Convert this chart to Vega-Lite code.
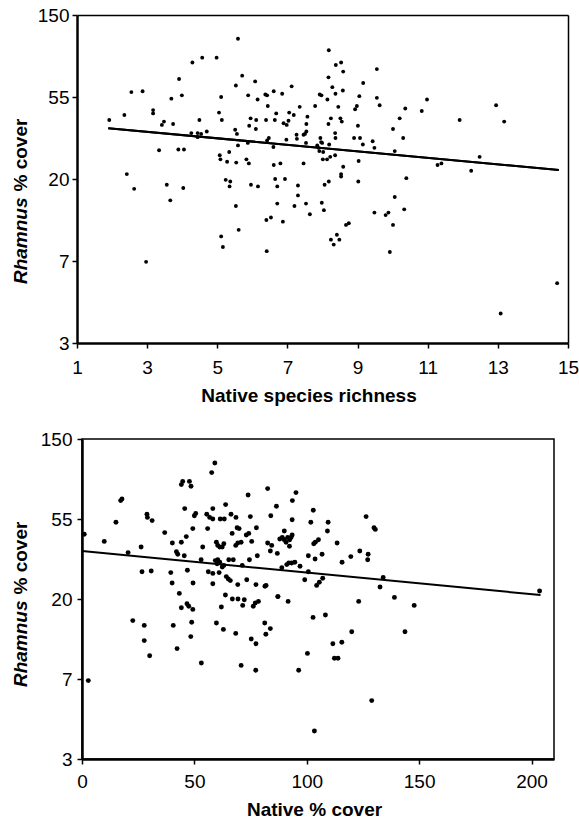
{
  "$schema": "https://vega.github.io/schema/vega-lite/v6.json",
  "background": "white",
  "padding": {"left": 10, "top": 6, "right": 0, "bottom": 0},
  "spacing": 24,
  "columns": 1,
  "align": "none",
  "config": {
    "font": "Liberation Sans",
    "view": {"stroke": "black", "strokeWidth": 1.5},
    "axis": {
      "grid": false,
      "domainColor": "black",
      "domainWidth": 2.5,
      "tickColor": "black",
      "tickWidth": 1.5,
      "tickSize": 5,
      "labelColor": "black",
      "labelFont": "Liberation Sans",
      "labelFontSize": 19,
      "labelFlush": false,
      "labelOverlap": false,
      "titleColor": "black",
      "titleFont": "Liberation Sans",
      "titleFontSize": 19,
      "titleFontWeight": "bold"
    }
  },
  "datasets": {
    "richness": [
      {"native_richness": 1.92, "ln_rhamnus_cover": 3.72},
      {"native_richness": 2.35, "ln_rhamnus_cover": 3.78},
      {"native_richness": 2.55, "ln_rhamnus_cover": 4.06},
      {"native_richness": 2.87, "ln_rhamnus_cover": 4.07},
      {"native_richness": 3.17, "ln_rhamnus_cover": 3.84},
      {"native_richness": 3.17, "ln_rhamnus_cover": 3.80},
      {"native_richness": 3.48, "ln_rhamnus_cover": 3.70},
      {"native_richness": 3.42, "ln_rhamnus_cover": 3.66},
      {"native_richness": 3.74, "ln_rhamnus_cover": 3.67},
      {"native_richness": 3.69, "ln_rhamnus_cover": 3.98},
      {"native_richness": 3.91, "ln_rhamnus_cover": 4.22},
      {"native_richness": 3.99, "ln_rhamnus_cover": 4.02},
      {"native_richness": 4.29, "ln_rhamnus_cover": 4.42},
      {"native_richness": 4.57, "ln_rhamnus_cover": 4.48},
      {"native_richness": 4.98, "ln_rhamnus_cover": 4.48},
      {"native_richness": 3.34, "ln_rhamnus_cover": 3.35},
      {"native_richness": 3.89, "ln_rhamnus_cover": 3.36},
      {"native_richness": 4.05, "ln_rhamnus_cover": 3.36},
      {"native_richness": 4.26, "ln_rhamnus_cover": 3.56},
      {"native_richness": 4.44, "ln_rhamnus_cover": 3.56},
      {"native_richness": 4.44, "ln_rhamnus_cover": 3.51},
      {"native_richness": 4.54, "ln_rhamnus_cover": 3.55},
      {"native_richness": 4.70, "ln_rhamnus_cover": 3.58},
      {"native_richness": 4.49, "ln_rhamnus_cover": 3.72},
      {"native_richness": 5.05, "ln_rhamnus_cover": 3.81},
      {"native_richness": 5.13, "ln_rhamnus_cover": 3.72},
      {"native_richness": 5.11, "ln_rhamnus_cover": 4.00},
      {"native_richness": 5.59, "ln_rhamnus_cover": 4.71},
      {"native_richness": 5.71, "ln_rhamnus_cover": 4.26},
      {"native_richness": 5.53, "ln_rhamnus_cover": 4.14},
      {"native_richness": 6.08, "ln_rhamnus_cover": 4.19},
      {"native_richness": 5.88, "ln_rhamnus_cover": 4.02},
      {"native_richness": 6.15, "ln_rhamnus_cover": 3.97},
      {"native_richness": 5.95, "ln_rhamnus_cover": 3.74},
      {"native_richness": 6.11, "ln_rhamnus_cover": 3.72},
      {"native_richness": 5.91, "ln_rhamnus_cover": 3.65},
      {"native_richness": 6.10, "ln_rhamnus_cover": 3.61},
      {"native_richness": 5.51, "ln_rhamnus_cover": 3.60},
      {"native_richness": 5.56, "ln_rhamnus_cover": 3.55},
      {"native_richness": 5.59, "ln_rhamnus_cover": 3.41},
      {"native_richness": 5.87, "ln_rhamnus_cover": 3.44},
      {"native_richness": 5.07, "ln_rhamnus_cover": 3.29},
      {"native_richness": 5.09, "ln_rhamnus_cover": 3.24},
      {"native_richness": 5.34, "ln_rhamnus_cover": 3.33},
      {"native_richness": 5.28, "ln_rhamnus_cover": 3.21},
      {"native_richness": 5.54, "ln_rhamnus_cover": 3.20},
      {"native_richness": 5.83, "ln_rhamnus_cover": 3.24},
      {"native_richness": 5.90, "ln_rhamnus_cover": 3.19},
      {"native_richness": 5.24, "ln_rhamnus_cover": 2.99},
      {"native_richness": 5.37, "ln_rhamnus_cover": 2.97},
      {"native_richness": 5.35, "ln_rhamnus_cover": 2.91},
      {"native_richness": 5.96, "ln_rhamnus_cover": 2.93},
      {"native_richness": 6.16, "ln_rhamnus_cover": 2.91},
      {"native_richness": 6.39, "ln_rhamnus_cover": 3.72},
      {"native_richness": 6.44, "ln_rhamnus_cover": 3.89},
      {"native_richness": 6.37, "ln_rhamnus_cover": 4.03},
      {"native_richness": 6.42, "ln_rhamnus_cover": 4.02},
      {"native_richness": 6.61, "ln_rhamnus_cover": 4.07},
      {"native_richness": 6.85, "ln_rhamnus_cover": 4.04},
      {"native_richness": 6.68, "ln_rhamnus_cover": 3.80},
      {"native_richness": 6.64, "ln_rhamnus_cover": 3.72},
      {"native_richness": 6.89, "ln_rhamnus_cover": 3.68},
      {"native_richness": 6.98, "ln_rhamnus_cover": 3.66},
      {"native_richness": 7.03, "ln_rhamnus_cover": 3.71},
      {"native_richness": 7.05, "ln_rhamnus_cover": 3.81},
      {"native_richness": 7.12, "ln_rhamnus_cover": 4.13},
      {"native_richness": 6.47, "ln_rhamnus_cover": 3.50},
      {"native_richness": 6.42, "ln_rhamnus_cover": 3.47},
      {"native_richness": 6.60, "ln_rhamnus_cover": 3.39},
      {"native_richness": 6.97, "ln_rhamnus_cover": 3.48},
      {"native_richness": 6.61, "ln_rhamnus_cover": 3.17},
      {"native_richness": 6.80, "ln_rhamnus_cover": 3.19},
      {"native_richness": 6.65, "ln_rhamnus_cover": 3.00},
      {"native_richness": 6.93, "ln_rhamnus_cover": 3.00},
      {"native_richness": 6.71, "ln_rhamnus_cover": 2.91},
      {"native_richness": 2.42, "ln_rhamnus_cover": 3.06},
      {"native_richness": 2.63, "ln_rhamnus_cover": 2.88},
      {"native_richness": 3.56, "ln_rhamnus_cover": 2.93},
      {"native_richness": 4.03, "ln_rhamnus_cover": 2.89},
      {"native_richness": 3.66, "ln_rhamnus_cover": 2.74},
      {"native_richness": 2.97, "ln_rhamnus_cover": 1.99},
      {"native_richness": 5.11, "ln_rhamnus_cover": 2.30},
      {"native_richness": 5.16, "ln_rhamnus_cover": 2.17},
      {"native_richness": 5.61, "ln_rhamnus_cover": 2.38},
      {"native_richness": 5.53, "ln_rhamnus_cover": 2.67},
      {"native_richness": 6.71, "ln_rhamnus_cover": 2.70},
      {"native_richness": 6.40, "ln_rhamnus_cover": 2.50},
      {"native_richness": 6.53, "ln_rhamnus_cover": 2.53},
      {"native_richness": 6.87, "ln_rhamnus_cover": 2.48},
      {"native_richness": 6.41, "ln_rhamnus_cover": 2.12},
      {"native_richness": 8.18, "ln_rhamnus_cover": 4.57},
      {"native_richness": 8.38, "ln_rhamnus_cover": 4.39},
      {"native_richness": 8.53, "ln_rhamnus_cover": 4.42},
      {"native_richness": 8.59, "ln_rhamnus_cover": 4.31},
      {"native_richness": 8.17, "ln_rhamnus_cover": 4.24},
      {"native_richness": 8.28, "ln_rhamnus_cover": 4.12},
      {"native_richness": 8.37, "ln_rhamnus_cover": 4.04},
      {"native_richness": 8.58, "ln_rhamnus_cover": 4.08},
      {"native_richness": 8.14, "ln_rhamnus_cover": 3.97},
      {"native_richness": 8.45, "ln_rhamnus_cover": 3.88},
      {"native_richness": 7.92, "ln_rhamnus_cover": 4.03},
      {"native_richness": 7.97, "ln_rhamnus_cover": 4.02},
      {"native_richness": 7.79, "ln_rhamnus_cover": 3.89},
      {"native_richness": 7.35, "ln_rhamnus_cover": 3.88},
      {"native_richness": 7.18, "ln_rhamnus_cover": 3.78},
      {"native_richness": 7.57, "ln_rhamnus_cover": 3.76},
      {"native_richness": 7.54, "ln_rhamnus_cover": 3.67},
      {"native_richness": 8.24, "ln_rhamnus_cover": 3.74},
      {"native_richness": 8.17, "ln_rhamnus_cover": 3.67},
      {"native_richness": 8.51, "ln_rhamnus_cover": 3.74},
      {"native_richness": 8.55, "ln_rhamnus_cover": 3.70},
      {"native_richness": 7.54, "ln_rhamnus_cover": 3.58},
      {"native_richness": 7.50, "ln_rhamnus_cover": 3.55},
      {"native_richness": 7.46, "ln_rhamnus_cover": 3.54},
      {"native_richness": 7.26, "ln_rhamnus_cover": 3.54},
      {"native_richness": 7.27, "ln_rhamnus_cover": 3.49},
      {"native_richness": 7.53, "ln_rhamnus_cover": 3.44},
      {"native_richness": 7.46, "ln_rhamnus_cover": 3.19},
      {"native_richness": 7.30, "ln_rhamnus_cover": 2.92},
      {"native_richness": 7.30, "ln_rhamnus_cover": 2.80},
      {"native_richness": 7.94, "ln_rhamnus_cover": 3.50},
      {"native_richness": 7.96, "ln_rhamnus_cover": 3.45},
      {"native_richness": 7.99, "ln_rhamnus_cover": 3.44},
      {"native_richness": 7.85, "ln_rhamnus_cover": 3.41},
      {"native_richness": 7.89, "ln_rhamnus_cover": 3.38},
      {"native_richness": 7.91, "ln_rhamnus_cover": 3.34},
      {"native_richness": 8.02, "ln_rhamnus_cover": 3.33},
      {"native_richness": 8.19, "ln_rhamnus_cover": 3.42},
      {"native_richness": 8.01, "ln_rhamnus_cover": 3.24},
      {"native_richness": 8.13, "ln_rhamnus_cover": 3.24},
      {"native_richness": 8.22, "ln_rhamnus_cover": 3.27},
      {"native_richness": 8.36, "ln_rhamnus_cover": 3.29},
      {"native_richness": 8.36, "ln_rhamnus_cover": 3.56},
      {"native_richness": 8.37, "ln_rhamnus_cover": 3.50},
      {"native_richness": 8.59, "ln_rhamnus_cover": 3.15},
      {"native_richness": 8.53, "ln_rhamnus_cover": 3.06},
      {"native_richness": 8.53, "ln_rhamnus_cover": 3.03},
      {"native_richness": 8.06, "ln_rhamnus_cover": 2.93},
      {"native_richness": 8.18, "ln_rhamnus_cover": 2.97},
      {"native_richness": 9.05, "ln_rhamnus_cover": 4.01},
      {"native_richness": 9.16, "ln_rhamnus_cover": 4.17},
      {"native_richness": 8.98, "ln_rhamnus_cover": 3.89},
      {"native_richness": 8.93, "ln_rhamnus_cover": 3.85},
      {"native_richness": 9.01, "ln_rhamnus_cover": 3.65},
      {"native_richness": 8.90, "ln_rhamnus_cover": 3.50},
      {"native_richness": 9.07, "ln_rhamnus_cover": 3.50},
      {"native_richness": 9.15, "ln_rhamnus_cover": 3.42},
      {"native_richness": 9.03, "ln_rhamnus_cover": 3.22},
      {"native_richness": 9.02, "ln_rhamnus_cover": 2.97},
      {"native_richness": 9.43, "ln_rhamnus_cover": 3.46},
      {"native_richness": 9.48, "ln_rhamnus_cover": 3.38},
      {"native_richness": 9.55, "ln_rhamnus_cover": 4.34},
      {"native_richness": 9.55, "ln_rhamnus_cover": 3.99},
      {"native_richness": 9.63, "ln_rhamnus_cover": 3.90},
      {"native_richness": 10.01, "ln_rhamnus_cover": 3.61},
      {"native_richness": 10.20, "ln_rhamnus_cover": 3.74},
      {"native_richness": 10.36, "ln_rhamnus_cover": 3.86},
      {"native_richness": 10.30, "ln_rhamnus_cover": 3.50},
      {"native_richness": 10.06, "ln_rhamnus_cover": 3.34},
      {"native_richness": 10.39, "ln_rhamnus_cover": 3.01},
      {"native_richness": 10.06, "ln_rhamnus_cover": 2.78},
      {"native_richness": 10.83, "ln_rhamnus_cover": 3.83},
      {"native_richness": 10.98, "ln_rhamnus_cover": 3.97},
      {"native_richness": 11.28, "ln_rhamnus_cover": 3.17},
      {"native_richness": 11.39, "ln_rhamnus_cover": 3.19},
      {"native_richness": 11.91, "ln_rhamnus_cover": 3.72},
      {"native_richness": 12.24, "ln_rhamnus_cover": 3.10},
      {"native_richness": 12.48, "ln_rhamnus_cover": 3.27},
      {"native_richness": 12.95, "ln_rhamnus_cover": 3.90},
      {"native_richness": 13.18, "ln_rhamnus_cover": 3.70},
      {"native_richness": 7.20, "ln_rhamnus_cover": 2.67},
      {"native_richness": 7.53, "ln_rhamnus_cover": 2.70},
      {"native_richness": 7.64, "ln_rhamnus_cover": 2.57},
      {"native_richness": 7.98, "ln_rhamnus_cover": 2.71},
      {"native_richness": 8.04, "ln_rhamnus_cover": 2.62},
      {"native_richness": 8.24, "ln_rhamnus_cover": 2.26},
      {"native_richness": 8.32, "ln_rhamnus_cover": 2.20},
      {"native_richness": 8.41, "ln_rhamnus_cover": 2.32},
      {"native_richness": 8.48, "ln_rhamnus_cover": 2.26},
      {"native_richness": 8.67, "ln_rhamnus_cover": 2.44},
      {"native_richness": 8.75, "ln_rhamnus_cover": 2.46},
      {"native_richness": 9.48, "ln_rhamnus_cover": 2.59},
      {"native_richness": 9.80, "ln_rhamnus_cover": 2.56},
      {"native_richness": 9.88, "ln_rhamnus_cover": 2.59},
      {"native_richness": 9.92, "ln_rhamnus_cover": 2.11},
      {"native_richness": 10.01, "ln_rhamnus_cover": 2.44},
      {"native_richness": 10.33, "ln_rhamnus_cover": 2.63},
      {"native_richness": 13.08, "ln_rhamnus_cover": 1.36},
      {"native_richness": 14.69, "ln_rhamnus_cover": 1.73}
    ],
    "richness_fit": [
      {"native_richness": 1.89, "ln_rhamnus_cover": 3.62},
      {"native_richness": 14.74, "ln_rhamnus_cover": 3.11}
    ],
    "cover": [
      {"native_cover": 1.0, "ln_rhamnus_cover": 3.81},
      {"native_cover": 9.9, "ln_rhamnus_cover": 3.72},
      {"native_cover": 15.1, "ln_rhamnus_cover": 3.96},
      {"native_cover": 17.2, "ln_rhamnus_cover": 4.23},
      {"native_cover": 17.8, "ln_rhamnus_cover": 4.25},
      {"native_cover": 20.5, "ln_rhamnus_cover": 3.58},
      {"native_cover": 26.3, "ln_rhamnus_cover": 3.65},
      {"native_cover": 26.7, "ln_rhamnus_cover": 3.34},
      {"native_cover": 30.8, "ln_rhamnus_cover": 3.35},
      {"native_cover": 28.9, "ln_rhamnus_cover": 4.06},
      {"native_cover": 29.1, "ln_rhamnus_cover": 4.02},
      {"native_cover": 31.2, "ln_rhamnus_cover": 3.98},
      {"native_cover": 36.8, "ln_rhamnus_cover": 3.83},
      {"native_cover": 39.5, "ln_rhamnus_cover": 3.33},
      {"native_cover": 40.1, "ln_rhamnus_cover": 3.20},
      {"native_cover": 40.2, "ln_rhamnus_cover": 3.70},
      {"native_cover": 42.0, "ln_rhamnus_cover": 3.59},
      {"native_cover": 42.6, "ln_rhamnus_cover": 3.56},
      {"native_cover": 43.3, "ln_rhamnus_cover": 3.07},
      {"native_cover": 44.2, "ln_rhamnus_cover": 4.43},
      {"native_cover": 44.8, "ln_rhamnus_cover": 4.47},
      {"native_cover": 47.8, "ln_rhamnus_cover": 4.47},
      {"native_cover": 48.5, "ln_rhamnus_cover": 4.41},
      {"native_cover": 45.7, "ln_rhamnus_cover": 4.13},
      {"native_cover": 44.2, "ln_rhamnus_cover": 3.71},
      {"native_cover": 46.4, "ln_rhamnus_cover": 3.78},
      {"native_cover": 45.5, "ln_rhamnus_cover": 3.54},
      {"native_cover": 46.9, "ln_rhamnus_cover": 3.36},
      {"native_cover": 49.4, "ln_rhamnus_cover": 3.20},
      {"native_cover": 49.3, "ln_rhamnus_cover": 3.88},
      {"native_cover": 50.0, "ln_rhamnus_cover": 4.04},
      {"native_cover": 50.6, "ln_rhamnus_cover": 4.07},
      {"native_cover": 53.0, "ln_rhamnus_cover": 3.49},
      {"native_cover": 53.7, "ln_rhamnus_cover": 3.65},
      {"native_cover": 55.5, "ln_rhamnus_cover": 4.06},
      {"native_cover": 55.9, "ln_rhamnus_cover": 3.88},
      {"native_cover": 56.2, "ln_rhamnus_cover": 3.34},
      {"native_cover": 57.7, "ln_rhamnus_cover": 4.58},
      {"native_cover": 59.1, "ln_rhamnus_cover": 4.70},
      {"native_cover": 58.2, "ln_rhamnus_cover": 4.13},
      {"native_cover": 56.8, "ln_rhamnus_cover": 4.02},
      {"native_cover": 58.2, "ln_rhamnus_cover": 4.00},
      {"native_cover": 58.2, "ln_rhamnus_cover": 3.19},
      {"native_cover": 58.2, "ln_rhamnus_cover": 3.32},
      {"native_cover": 59.3, "ln_rhamnus_cover": 3.48},
      {"native_cover": 60.4, "ln_rhamnus_cover": 3.49},
      {"native_cover": 61.3, "ln_rhamnus_cover": 3.46},
      {"native_cover": 60.1, "ln_rhamnus_cover": 3.44},
      {"native_cover": 61.0, "ln_rhamnus_cover": 3.33},
      {"native_cover": 62.4, "ln_rhamnus_cover": 3.40},
      {"native_cover": 63.1, "ln_rhamnus_cover": 3.42},
      {"native_cover": 59.8, "ln_rhamnus_cover": 3.71},
      {"native_cover": 60.4, "ln_rhamnus_cover": 3.67},
      {"native_cover": 61.3, "ln_rhamnus_cover": 3.65},
      {"native_cover": 63.1, "ln_rhamnus_cover": 3.69},
      {"native_cover": 62.4, "ln_rhamnus_cover": 3.65},
      {"native_cover": 61.5, "ln_rhamnus_cover": 4.00},
      {"native_cover": 63.3, "ln_rhamnus_cover": 4.00},
      {"native_cover": 63.9, "ln_rhamnus_cover": 4.18},
      {"native_cover": 66.3, "ln_rhamnus_cover": 4.06},
      {"native_cover": 68.5, "ln_rhamnus_cover": 4.02},
      {"native_cover": 64.2, "ln_rhamnus_cover": 3.28},
      {"native_cover": 65.1, "ln_rhamnus_cover": 3.25},
      {"native_cover": 66.0, "ln_rhamnus_cover": 3.23},
      {"native_cover": 65.3, "ln_rhamnus_cover": 3.49},
      {"native_cover": 67.3, "ln_rhamnus_cover": 3.49},
      {"native_cover": 69.3, "ln_rhamnus_cover": 3.18},
      {"native_cover": 69.9, "ln_rhamnus_cover": 3.88},
      {"native_cover": 69.0, "ln_rhamnus_cover": 3.89},
      {"native_cover": 66.8, "ln_rhamnus_cover": 3.82},
      {"native_cover": 68.4, "ln_rhamnus_cover": 3.67},
      {"native_cover": 69.3, "ln_rhamnus_cover": 3.70},
      {"native_cover": 70.8, "ln_rhamnus_cover": 3.71},
      {"native_cover": 73.9, "ln_rhamnus_cover": 4.30},
      {"native_cover": 74.9, "ln_rhamnus_cover": 4.03},
      {"native_cover": 73.1, "ln_rhamnus_cover": 3.80},
      {"native_cover": 74.2, "ln_rhamnus_cover": 3.82},
      {"native_cover": 75.5, "ln_rhamnus_cover": 3.72},
      {"native_cover": 73.3, "ln_rhamnus_cover": 3.24},
      {"native_cover": 71.3, "ln_rhamnus_cover": 3.42},
      {"native_cover": 74.5, "ln_rhamnus_cover": 3.49},
      {"native_cover": 77.6, "ln_rhamnus_cover": 3.89},
      {"native_cover": 78.0, "ln_rhamnus_cover": 3.54},
      {"native_cover": 77.4, "ln_rhamnus_cover": 3.18},
      {"native_cover": 81.9, "ln_rhamnus_cover": 3.17},
      {"native_cover": 81.4, "ln_rhamnus_cover": 3.16},
      {"native_cover": 82.6, "ln_rhamnus_cover": 4.38},
      {"native_cover": 84.0, "ln_rhamnus_cover": 4.04},
      {"native_cover": 86.5, "ln_rhamnus_cover": 4.16},
      {"native_cover": 82.6, "ln_rhamnus_cover": 3.70},
      {"native_cover": 84.4, "ln_rhamnus_cover": 3.67},
      {"native_cover": 83.8, "ln_rhamnus_cover": 3.60},
      {"native_cover": 86.9, "ln_rhamnus_cover": 3.57},
      {"native_cover": 88.0, "ln_rhamnus_cover": 3.75},
      {"native_cover": 89.1, "ln_rhamnus_cover": 3.77},
      {"native_cover": 90.0, "ln_rhamnus_cover": 3.74},
      {"native_cover": 90.8, "ln_rhamnus_cover": 3.71},
      {"native_cover": 90.0, "ln_rhamnus_cover": 3.85},
      {"native_cover": 88.9, "ln_rhamnus_cover": 3.39},
      {"native_cover": 91.1, "ln_rhamnus_cover": 3.43},
      {"native_cover": 92.0, "ln_rhamnus_cover": 3.45},
      {"native_cover": 87.1, "ln_rhamnus_cover": 3.03},
      {"native_cover": 44.2, "ln_rhamnus_cover": 2.89},
      {"native_cover": 46.7, "ln_rhamnus_cover": 2.94},
      {"native_cover": 47.5, "ln_rhamnus_cover": 2.91},
      {"native_cover": 49.3, "ln_rhamnus_cover": 2.87},
      {"native_cover": 22.6, "ln_rhamnus_cover": 2.73},
      {"native_cover": 27.7, "ln_rhamnus_cover": 2.67},
      {"native_cover": 27.7, "ln_rhamnus_cover": 2.48},
      {"native_cover": 30.1, "ln_rhamnus_cover": 2.29},
      {"native_cover": 40.6, "ln_rhamnus_cover": 2.67},
      {"native_cover": 42.3, "ln_rhamnus_cover": 2.38},
      {"native_cover": 48.8, "ln_rhamnus_cover": 2.71},
      {"native_cover": 48.4, "ln_rhamnus_cover": 2.53},
      {"native_cover": 53.1, "ln_rhamnus_cover": 2.20},
      {"native_cover": 2.8, "ln_rhamnus_cover": 1.98},
      {"native_cover": 59.8, "ln_rhamnus_cover": 2.70},
      {"native_cover": 62.0, "ln_rhamnus_cover": 2.90},
      {"native_cover": 63.8, "ln_rhamnus_cover": 3.05},
      {"native_cover": 62.9, "ln_rhamnus_cover": 2.62},
      {"native_cover": 66.9, "ln_rhamnus_cover": 3.00},
      {"native_cover": 69.4, "ln_rhamnus_cover": 3.00},
      {"native_cover": 71.5, "ln_rhamnus_cover": 2.92},
      {"native_cover": 72.2, "ln_rhamnus_cover": 2.99},
      {"native_cover": 68.4, "ln_rhamnus_cover": 2.57},
      {"native_cover": 70.8, "ln_rhamnus_cover": 2.17},
      {"native_cover": 76.2, "ln_rhamnus_cover": 2.91},
      {"native_cover": 77.1, "ln_rhamnus_cover": 2.95},
      {"native_cover": 78.5, "ln_rhamnus_cover": 2.97},
      {"native_cover": 75.3, "ln_rhamnus_cover": 2.50},
      {"native_cover": 77.4, "ln_rhamnus_cover": 2.44},
      {"native_cover": 77.3, "ln_rhamnus_cover": 2.11},
      {"native_cover": 81.3, "ln_rhamnus_cover": 2.70},
      {"native_cover": 83.8, "ln_rhamnus_cover": 2.63},
      {"native_cover": 81.8, "ln_rhamnus_cover": 2.56},
      {"native_cover": 87.2, "ln_rhamnus_cover": 3.03},
      {"native_cover": 91.7, "ln_rhamnus_cover": 2.97},
      {"native_cover": 95.2, "ln_rhamnus_cover": 4.33},
      {"native_cover": 93.6, "ln_rhamnus_cover": 4.23},
      {"native_cover": 102.9, "ln_rhamnus_cover": 4.11},
      {"native_cover": 93.5, "ln_rhamnus_cover": 3.99},
      {"native_cover": 101.8, "ln_rhamnus_cover": 3.96},
      {"native_cover": 109.5, "ln_rhamnus_cover": 3.96},
      {"native_cover": 126.4, "ln_rhamnus_cover": 4.03},
      {"native_cover": 129.9, "ln_rhamnus_cover": 3.89},
      {"native_cover": 130.5, "ln_rhamnus_cover": 3.87},
      {"native_cover": 109.2, "ln_rhamnus_cover": 3.85},
      {"native_cover": 93.5, "ln_rhamnus_cover": 3.80},
      {"native_cover": 92.4, "ln_rhamnus_cover": 3.74},
      {"native_cover": 91.5, "ln_rhamnus_cover": 3.77},
      {"native_cover": 93.0, "ln_rhamnus_cover": 3.77},
      {"native_cover": 92.3, "ln_rhamnus_cover": 3.66},
      {"native_cover": 103.8, "ln_rhamnus_cover": 3.71},
      {"native_cover": 105.2, "ln_rhamnus_cover": 3.74},
      {"native_cover": 103.1, "ln_rhamnus_cover": 3.69},
      {"native_cover": 113.5, "ln_rhamnus_cover": 3.70},
      {"native_cover": 100.7, "ln_rhamnus_cover": 3.54},
      {"native_cover": 103.7, "ln_rhamnus_cover": 3.50},
      {"native_cover": 106.8, "ln_rhamnus_cover": 3.56},
      {"native_cover": 115.7, "ln_rhamnus_cover": 3.46},
      {"native_cover": 119.6, "ln_rhamnus_cover": 3.53},
      {"native_cover": 123.6, "ln_rhamnus_cover": 3.60},
      {"native_cover": 127.3, "ln_rhamnus_cover": 3.56},
      {"native_cover": 127.1, "ln_rhamnus_cover": 3.49},
      {"native_cover": 93.3, "ln_rhamnus_cover": 3.45},
      {"native_cover": 94.7, "ln_rhamnus_cover": 3.46},
      {"native_cover": 97.0, "ln_rhamnus_cover": 3.41},
      {"native_cover": 100.7, "ln_rhamnus_cover": 3.34},
      {"native_cover": 99.1, "ln_rhamnus_cover": 3.24},
      {"native_cover": 104.4, "ln_rhamnus_cover": 3.17},
      {"native_cover": 105.6, "ln_rhamnus_cover": 3.21},
      {"native_cover": 107.1, "ln_rhamnus_cover": 3.26},
      {"native_cover": 132.6, "ln_rhamnus_cover": 3.15},
      {"native_cover": 134.0, "ln_rhamnus_cover": 3.27},
      {"native_cover": 139.0, "ln_rhamnus_cover": 3.02},
      {"native_cover": 203.6, "ln_rhamnus_cover": 3.10},
      {"native_cover": 102.8, "ln_rhamnus_cover": 2.77},
      {"native_cover": 108.3, "ln_rhamnus_cover": 2.80},
      {"native_cover": 123.1, "ln_rhamnus_cover": 2.97},
      {"native_cover": 147.8, "ln_rhamnus_cover": 2.92},
      {"native_cover": 120.0, "ln_rhamnus_cover": 2.59},
      {"native_cover": 143.7, "ln_rhamnus_cover": 2.59},
      {"native_cover": 111.6, "ln_rhamnus_cover": 2.44},
      {"native_cover": 115.6, "ln_rhamnus_cover": 2.46},
      {"native_cover": 112.3, "ln_rhamnus_cover": 2.26},
      {"native_cover": 113.9, "ln_rhamnus_cover": 2.26},
      {"native_cover": 100.3, "ln_rhamnus_cover": 2.32},
      {"native_cover": 96.4, "ln_rhamnus_cover": 2.11},
      {"native_cover": 128.9, "ln_rhamnus_cover": 1.73},
      {"native_cover": 103.4, "ln_rhamnus_cover": 1.35}
    ],
    "cover_fit": [
      {"native_cover": 0, "ln_rhamnus_cover": 3.60},
      {"native_cover": 204, "ln_rhamnus_cover": 3.05}
    ]
  },
  "concat": [
    {
      "width": 486,
      "height": 328,
      "view": {"stroke": null},
      "layer": [
        {
          "data": {"name": "richness"},
          "mark": {"type": "circle", "color": "black", "opacity": 1, "size": 15},
          "encoding": {
            "x": {
              "field": "native_richness", "type": "quantitative",
              "scale": {"domain": [1, 15], "range": [-5, 486], "nice": false, "zero": false},
              "axis": {"values": [1, 3, 5, 7, 9, 11, 13, 15], "title": "Native species richness", "titleX": 226.5, "titlePadding": 9, "labelPadding": 10}
            },
            "y": {
              "field": "ln_rhamnus_cover", "type": "quantitative",
              "scale": {"domain": [1, 5], "nice": false, "zero": false},
              "axis": {
                "offset": 5,
                "values": [1, 2, 3, 4, 5],
                "labelExpr": "datum.value == 1 ? '3' : datum.value == 2 ? '7' : datum.value == 3 ? '20' : datum.value == 4 ? '55' : '150'",
                "labelPadding": 3,
                "title": "% cover", "titleAngle": 270, "titleAlign": "left", "titleBaseline": "bottom", "titleX": -47, "titleY": 176
              }
            }
          }
        },
        {
          "data": {"name": "richness_fit"},
          "mark": {"type": "line", "color": "black", "strokeWidth": 2},
          "encoding": {
            "x": {
              "field": "native_richness", "type": "quantitative",
              "scale": {"domain": [1, 15], "range": [-5, 486], "nice": false, "zero": false},
              "axis": {"orient": "top", "domainWidth": 1.5, "ticks": false, "labels": false, "title": null}
            },
            "y": {
              "field": "ln_rhamnus_cover", "type": "quantitative",
              "scale": {"domain": [1, 5], "nice": false, "zero": false},
              "axis": {
                "orient": "left", "offset": 5, "domain": false, "ticks": false, "labels": false,
                "title": "Rhamnus", "titleFontStyle": "italic", "titleAngle": 270, "titleAlign": "right", "titleBaseline": "bottom", "titleX": -47, "titleY": 182
              }
            }
          }
        },
        {
          "data": {"name": "richness_fit"},
          "mark": {"type": "line", "color": "black", "strokeWidth": 2},
          "encoding": {
            "x": {
              "field": "native_richness", "type": "quantitative",
              "scale": {"domain": [1, 15], "range": [-5, 486], "nice": false, "zero": false},
              "axis": null
            },
            "y": {
              "field": "ln_rhamnus_cover", "type": "quantitative",
              "scale": {"domain": [1, 5], "nice": false, "zero": false},
              "axis": {"orient": "right", "domainWidth": 1.5, "ticks": false, "labels": false, "title": null}
            }
          }
        }
      ],
      "resolve": {"axis": {"x": "independent", "y": "independent"}}
    },
    {
      "width": 472,
      "height": 320,
      "layer": [
        {
          "data": {"name": "cover"},
          "mark": {"type": "circle", "color": "black", "opacity": 1, "size": 24},
          "encoding": {
            "x": {
              "field": "native_cover", "type": "quantitative",
              "scale": {"domain": [0, 210], "nice": false, "zero": false},
              "axis": {"values": [0, 50, 100, 150, 200], "title": "Native % cover", "titleX": 232, "titlePadding": 9, "labelPadding": 8}
            },
            "y": {
              "field": "ln_rhamnus_cover", "type": "quantitative",
              "scale": {"domain": [1, 5], "nice": false, "zero": false},
              "axis": {
                "values": [1, 2, 3, 4, 5],
                "labelExpr": "datum.value == 1 ? '3' : datum.value == 2 ? '7' : datum.value == 3 ? '20' : datum.value == 4 ? '55' : '150'",
                "labelPadding": 5,
                "title": "% cover", "titleAngle": 270, "titleAlign": "left", "titleBaseline": "bottom", "titleX": -52, "titleY": 155
              }
            }
          }
        },
        {
          "data": {"name": "cover_fit"},
          "mark": {"type": "line", "color": "black", "strokeWidth": 2},
          "encoding": {
            "x": {
              "field": "native_cover", "type": "quantitative",
              "scale": {"domain": [0, 210], "nice": false, "zero": false},
              "axis": {"values": [0, 50, 100, 150, 200], "title": "Native % cover", "titleX": 232, "titlePadding": 9, "labelPadding": 8}
            },
            "y": {
              "field": "ln_rhamnus_cover", "type": "quantitative",
              "scale": {"domain": [1, 5], "nice": false, "zero": false},
              "axis": {
                "orient": "left", "domain": false, "ticks": false, "labels": false,
                "title": "Rhamnus", "titleFontStyle": "italic", "titleAngle": 270, "titleAlign": "right", "titleBaseline": "bottom", "titleX": -52, "titleY": 161
              }
            }
          }
        }
      ],
      "resolve": {"axis": {"y": "independent"}}
    }
  ]
}
